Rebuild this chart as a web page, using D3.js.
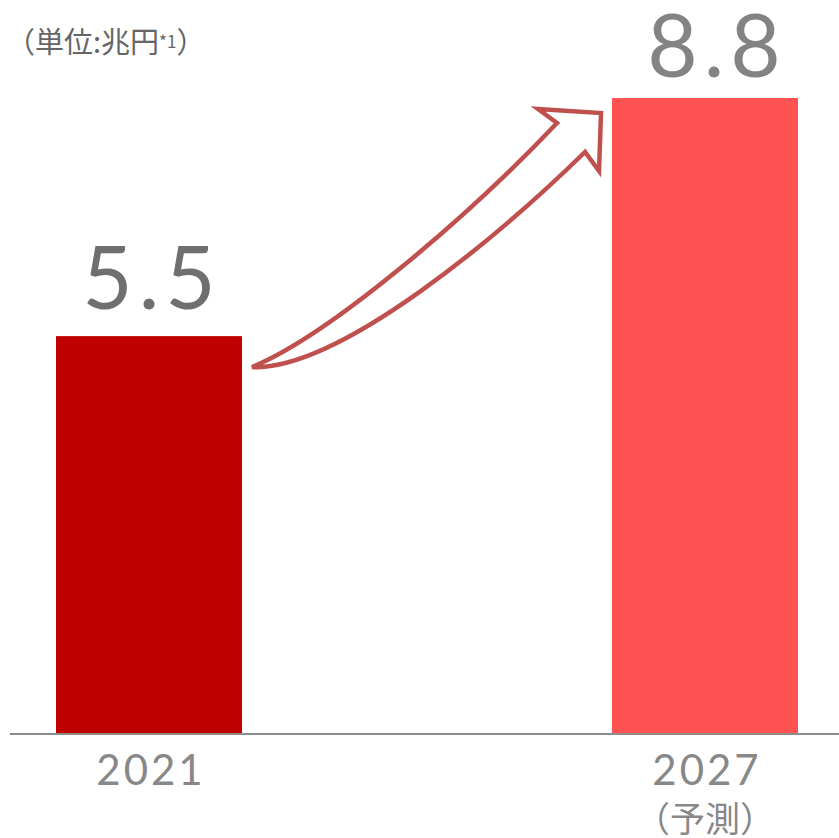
<!DOCTYPE html>
<html><head><meta charset="utf-8">
<script src="https://cdn.jsdelivr.net/npm/d3@7"></script>
<style>body{margin:0;background:#fff}svg{display:block}</style>
</head><body>
<script>
// Market size (兆円)
const years = ["2021", "2027"];
const values = [5.5, 8.8];
const subLabels = ["", "（予測）"];
const barColors = ["#c00000", "#ff5252"];
const valueColors = ["#6f6f6f", "#838383"];

const W = 839, H = 838;
const svg = d3.select("body").append("svg").attr("width", W).attr("height", H);

const x = d3.scaleBand().domain(years).range([56, 798]).paddingInner(0.6655).paddingOuter(0);
const y = d3.scaleLinear().domain([0, 8.8]).range([733, 98]);

const numFont = "Lato, 'Noto Sans', sans-serif";
const jpFont = "'Noto Sans CJK JP', 'Noto Sans', sans-serif";

// unit note
const unit = svg.append("text").attr("x", 6).attr("y", 53)
  .attr("font-family", jpFont).attr("font-size", 29).attr("fill", "#666");
unit.append("tspan").text("（単位:兆円");
unit.append("tspan").attr("font-size", 17).attr("dy", -5).text("*1");
unit.append("tspan").attr("dy", 5).text("）");

// bars
svg.selectAll("rect.bar").data(years).join("rect").attr("class", "bar")
  .attr("x", d => x(d)).attr("width", x.bandwidth())
  .attr("y", (d, i) => y(values[i])).attr("height", (d, i) => y(0) - y(values[i]))
  .attr("fill", (d, i) => barColors[i]);

// baseline
svg.append("line").attr("x1", 10).attr("x2", W).attr("y1", y(0) + 1).attr("y2", y(0) + 1)
  .attr("stroke", "#8c8c8c").attr("stroke-width", 2);

// value labels (the forecast label sits slightly right of its bar centre)
svg.selectAll("text.val").data(years).join("text").attr("class", "val")
  .attr("x", (d, i) => x(d) + x.bandwidth() / 2 + 3 + (i === 1 ? 9 : 0))
  .attr("y", (d, i) => y(values[i]) - (i === 0 ? 27 : 21))
  .attr("text-anchor", "middle").attr("font-family", numFont)
  .attr("font-size", 87).attr("letter-spacing", 6)
  .attr("fill", (d, i) => valueColors[i])
  .text((d, i) => values[i].toFixed(1));

// year labels
svg.selectAll("text.year").data(years).join("text").attr("class", "year")
  .attr("x", d => x(d) + x.bandwidth() / 2 + 2)
  .attr("y", y(0) + 52)
  .attr("text-anchor", "middle").attr("font-family", numFont)
  .attr("font-size", 42).attr("letter-spacing", 3).attr("fill", "#888")
  .text(d => d);
svg.selectAll("text.sub").data(years).join("text").attr("class", "sub")
  .attr("x", d => x(d) + x.bandwidth() / 2)
  .attr("y", y(0) + 99)
  .attr("text-anchor", "middle").attr("font-family", jpFont)
  .attr("font-size", 35).attr("fill", "#888")
  .text((d, i) => subLabels[i]);

// growth arrow from the first bar to the second
const tx = x(years[0]) + x.bandwidth() + 10, ty = y(values[0]) + 31;
const hx = x(years[1]) - 11, hy = y(values[1]) + 15;
const p = d3.path();
p.moveTo(tx, ty);
p.bezierCurveTo(tx + 78, ty - 32, tx + 218, ty - 152, hx - 44, hy + 10);
p.lineTo(hx - 63, hy - 4);
p.lineTo(hx, hy);
p.lineTo(hx - 2, hy + 58);
p.lineTo(hx - 16, hy + 39);
p.bezierCurveTo(hx - 101, hy + 122, tx + 88, ty + 3, tx, ty);
p.closePath();
svg.append("path").attr("d", p.toString())
  .attr("fill", "#fff").attr("stroke", "#c0504d").attr("stroke-width", 4.5)
  .attr("stroke-linejoin", "miter");
</script>
</body></html>
